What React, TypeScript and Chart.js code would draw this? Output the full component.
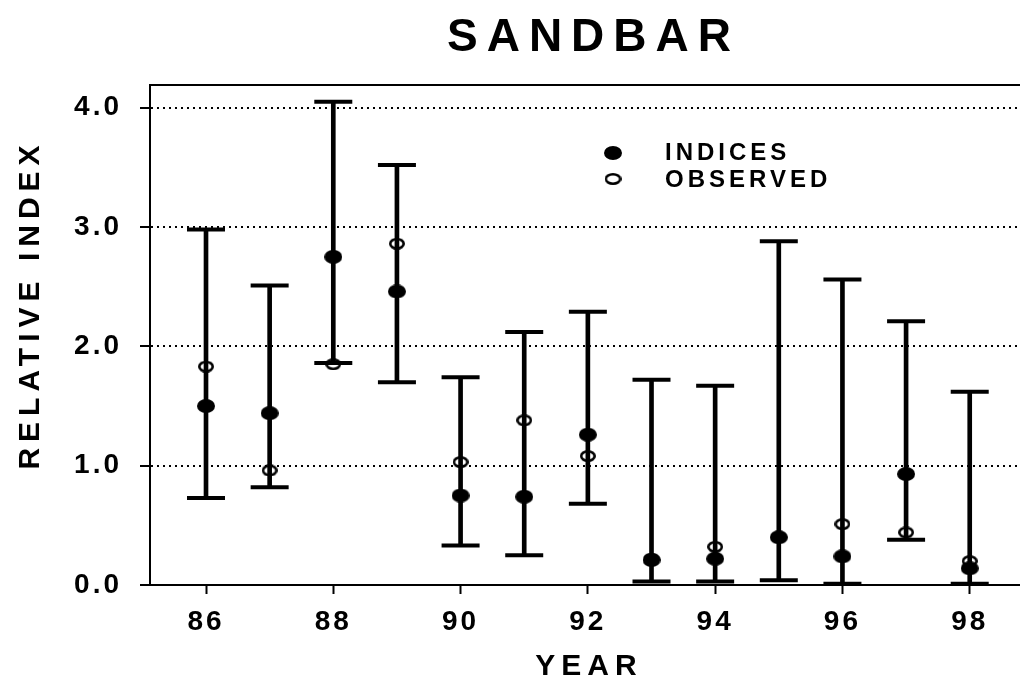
import React, { useEffect, useRef } from 'react';
import { Chart, registerables } from 'chart.js';
Chart.register(...registerables);

const TITLE = 'SANDBAR';
const X_TITLE = 'YEAR';
const Y_TITLE = 'RELATIVE INDEX';
const LEGEND_LABELS = ['INDICES', 'OBSERVED'];

const YEARS = [86, 87, 88, 89, 90, 91, 92, 93, 94, 95, 96, 97, 98];
const INDICES = [1.50, 1.44, 2.75, 2.46, 0.75, 0.74, 1.26, 0.21, 0.22, 0.40, 0.24, 0.93, 0.14];
const OBSERVED = [1.83, 0.96, 1.85, 2.86, 1.03, 1.38, 1.08, 0.22, 0.32, 0.40, 0.51, 0.44, 0.20];
const LOWER = [0.73, 0.82, 1.86, 1.70, 0.33, 0.25, 0.68, 0.03, 0.03, 0.04, 0.01, 0.38, 0.01];
const UPPER = [2.98, 2.51, 4.05, 3.52, 1.74, 2.12, 2.29, 1.72, 1.67, 2.88, 2.56, 2.21, 1.62];

const X_TICKS = [86, 88, 90, 92, 94, 96, 98];
const Y_TICKS = [0, 1, 2, 3, 4];
const X_MIN = 85.12;
const X_MAX = 98.79;
const Y_MIN = 0;
const Y_MAX = 4.19;

const FONT = '"Liberation Sans", Arial, Helvetica, sans-serif';

function makeEllipse(w: number, h: number, filled: boolean) {
  const c = document.createElement('canvas');
  c.width = w;
  c.height = h;
  const g = c.getContext('2d')!;
  g.beginPath();
  if (filled) {
    g.ellipse(w / 2, h / 2, w / 2, h / 2, 0, 0, Math.PI * 2);
    g.fillStyle = '#000';
    g.fill();
  } else {
    g.ellipse(w / 2, h / 2, w / 2 - 1.3, h / 2 - 1.3, 0, 0, Math.PI * 2);
    g.lineWidth = 2.6;
    g.strokeStyle = '#000';
    g.stroke();
  }
  return c;
}

export default function App() {
  const ref = useRef<HTMLCanvasElement | null>(null);

  useEffect(() => {
    const canvas = ref.current;
    if (!canvas) return;
    const filledImg = makeEllipse(18, 14, true);
    const openImg = makeEllipse(16, 12, false);
    const legendOpenImg = makeEllipse(17, 12, false);

    const deco = {
      id: 'deco',
      beforeLayout(chart: any) {
        chart.ctx.letterSpacing = '3px';
      },
      beforeDraw(chart: any) {
        chart.ctx.letterSpacing = '3px';
      },
      afterDraw(chart: any) {
        const ctx = chart.ctx;
        const a = chart.chartArea;
        ctx.save();
        ctx.strokeStyle = '#000';
        ctx.lineWidth = 2;
        ctx.beginPath();
        ctx.moveTo(a.left - 1, a.top);
        ctx.lineTo(a.right, a.top);
        ctx.stroke();

        ctx.fillStyle = '#000';
        ctx.textAlign = 'center';
        ctx.textBaseline = 'alphabetic';
        ctx.font = `bold 46px ${FONT}`;
        ctx.letterSpacing = '9px';
        ctx.fillText(TITLE, 593.5, 51);

        ctx.font = `bold 30px ${FONT}`;
        ctx.letterSpacing = '6px';
        ctx.fillText(X_TITLE, 589, 675);

        ctx.save();
        ctx.translate(28, 304.5);
        ctx.rotate(-Math.PI / 2);
        ctx.letterSpacing = '6px';
        ctx.fillText(Y_TITLE, 0, 11);
        ctx.restore();

        // legend
        ctx.drawImage(filledImg, 613 - 9, 153 - 7);
        ctx.drawImage(legendOpenImg, 613 - 8.5, 179 - 6);
        ctx.textAlign = 'left';
        ctx.font = `bold 24px ${FONT}`;
        ctx.letterSpacing = '4px';
        ctx.fillText(LEGEND_LABELS[0], 665, 159.5);
        ctx.fillText(LEGEND_LABELS[1], 665, 186.5);
        ctx.restore();
      },
    };

    const chart = new Chart(canvas, {
      type: 'scatter',
      data: {
        datasets: [
          {
            type: 'scatter',
            label: LEGEND_LABELS[0],
            data: YEARS.map((x, i) => ({ x, y: INDICES[i] })),
            pointStyle: filledImg as any,
            pointRadius: 8,
            order: 0,
          },
          {
            type: 'scatter',
            label: LEGEND_LABELS[1],
            data: YEARS.map((x, i) => ({ x, y: OBSERVED[i] })),
            pointStyle: openImg as any,
            pointRadius: 6,
            order: 1,
          },
          {
            type: 'scatter',
            label: 'upper',
            data: YEARS.map((x, i) => ({ x, y: UPPER[i] })),
            pointStyle: 'line',
            pointRadius: 19,
            pointBorderWidth: 4,
            pointBorderColor: '#000',
            order: 2,
          },
          {
            type: 'scatter',
            label: 'lower',
            data: YEARS.map((x, i) => ({ x, y: LOWER[i] })),
            pointStyle: 'line',
            pointRadius: 19,
            pointBorderWidth: 4,
            pointBorderColor: '#000',
            order: 2,
          },
          {
            type: 'bar',
            label: 'range',
            data: YEARS.map((x, i) => ({ x, y: [LOWER[i], UPPER[i]] })) as any,
            barThickness: 4,
            backgroundColor: '#000',
            borderWidth: 0,
            order: 3,
          } as any,
        ],
      },
      options: {
        animation: false,
        responsive: false,
        events: [],
        layout: { autoPadding: false, padding: { left: 0, right: 0, top: 85, bottom: 0 } },
        plugins: {
          legend: { display: false },
          title: { display: false },
          tooltip: { enabled: false },
        },
        scales: {
          x: {
            type: 'linear',
            min: X_MIN,
            max: X_MAX,
            offset: false,
            afterBuildTicks: (axis: any) => {
              axis.ticks = X_TICKS.map((v) => ({ value: v }));
            },
            afterFit: (axis: any) => {
              axis.height = 95;
              axis.paddingLeft = 0;
              axis.paddingRight = 0;
            },
            grid: {
              offset: false,
              drawOnChartArea: false,
              drawTicks: true,
              tickLength: 9,
              tickWidth: 2,
              tickColor: '#000',
            },
            border: { display: true, color: '#000', width: 2 },
            ticks: {
              color: '#000',
              padding: 11,
              maxRotation: 0,
              autoSkip: false,
              font: { family: FONT, size: 28, weight: 'bold' },
              callback: (v: any) => String(v),
            },
          },
          y: {
            type: 'linear',
            min: Y_MIN,
            max: Y_MAX,
            afterBuildTicks: (axis: any) => {
              axis.ticks = Y_TICKS.map((v) => ({ value: v }));
            },
            afterFit: (axis: any) => {
              axis.width = 150;
              axis.paddingTop = 0;
              axis.paddingBottom = 0;
            },
            grid: {
              offset: false,
              drawOnChartArea: true,
              drawTicks: true,
              color: '#000',
              lineWidth: 2,
              tickLength: 10,
              tickWidth: 2,
              tickColor: '#000',
              tickBorderDash: [],
            },
            border: { display: true, color: '#000', width: 2, dash: [2, 4] },
            ticks: {
              color: '#000',
              padding: 18,
              autoSkip: false,
              font: { family: FONT, size: 28, weight: 'bold' },
              callback: (v: any) => Number(v).toFixed(1),
            },
          },
        },
      } as any,
      plugins: [deco],
    });
    return () => chart.destroy();
  }, []);

  return (
    <div style={{ position: 'absolute', left: 0, top: 0, width: 1020, height: 680 }}>
      <canvas ref={ref} width={1020} height={680} style={{ display: 'block' }} />
    </div>
  );
}
